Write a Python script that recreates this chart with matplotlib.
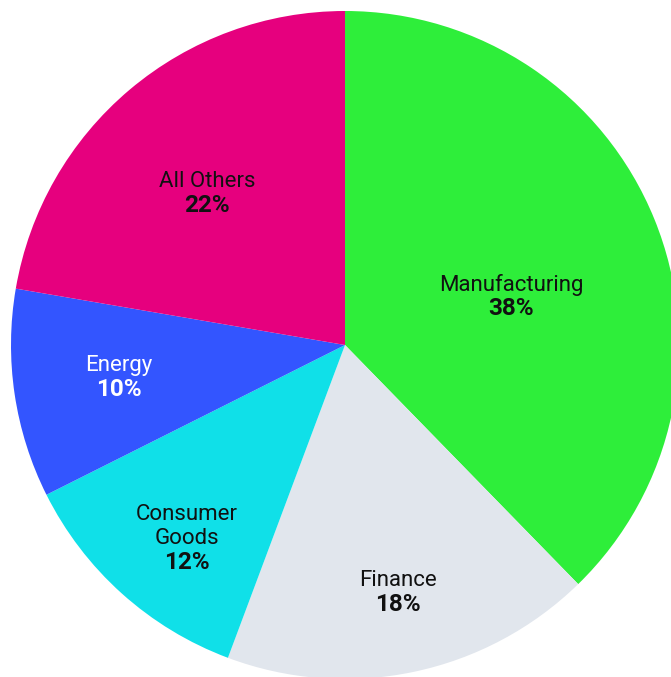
import matplotlib.pyplot as plt

# Sector shares (clockwise from 12 o'clock), labels show rounded values
sectors = ["Manufacturing", "Finance", "Consumer\nGoods", "Energy", "All Others"]
shares = [37.7, 18.0, 11.9, 10.1, 22.3]
colors = ["#2EEE3A", "#E1E6ED", "#10E0E8", "#3355FF", "#E6007E"]
text_colors = ["#111111", "#111111", "#111111", "#FFFFFF", "#111111"]

# label block centres, in units of the pie radius
label_pos = [(0.497, 0.144), (0.159, -0.740), (-0.473, -0.578),
             (-0.677, -0.096), (-0.413, 0.455)]

W, H = 671, 677
fig = plt.figure(figsize=(W / 100, H / 100), dpi=100)
cx, cy, R = 345, 345, 334
ax = fig.add_axes([(cx - R) / W, (H - cy - R) / H, 2 * R / W, 2 * R / H])

ax.pie(shares, colors=colors, startangle=90, counterclock=False,
       radius=1, wedgeprops=dict(linewidth=0))
ax.set_xlim(-1, 1)
ax.set_ylim(-1, 1)
ax.set_aspect("equal")
ax.axis("off")

line_pt = 24 * 72 / 100  # line spacing in points
for name, val, (x, y), tc in zip(sectors, shares, label_pos, text_colors):
    lines = name.split("\n") + [f"{round(val)}%"]
    n = len(lines)
    for i, ln in enumerate(lines):
        dy = ((n - 1) / 2 - i) * line_pt
        bold = i == n - 1
        ax.annotate(ln, (x, y), xytext=(0, dy), textcoords="offset points",
                    ha="center", va="center", color=tc,
                    fontsize=17.5 if bold else 16, family="Roboto",
                    fontweight="bold" if bold else "normal")

fig.savefig("out.png", dpi=100)
